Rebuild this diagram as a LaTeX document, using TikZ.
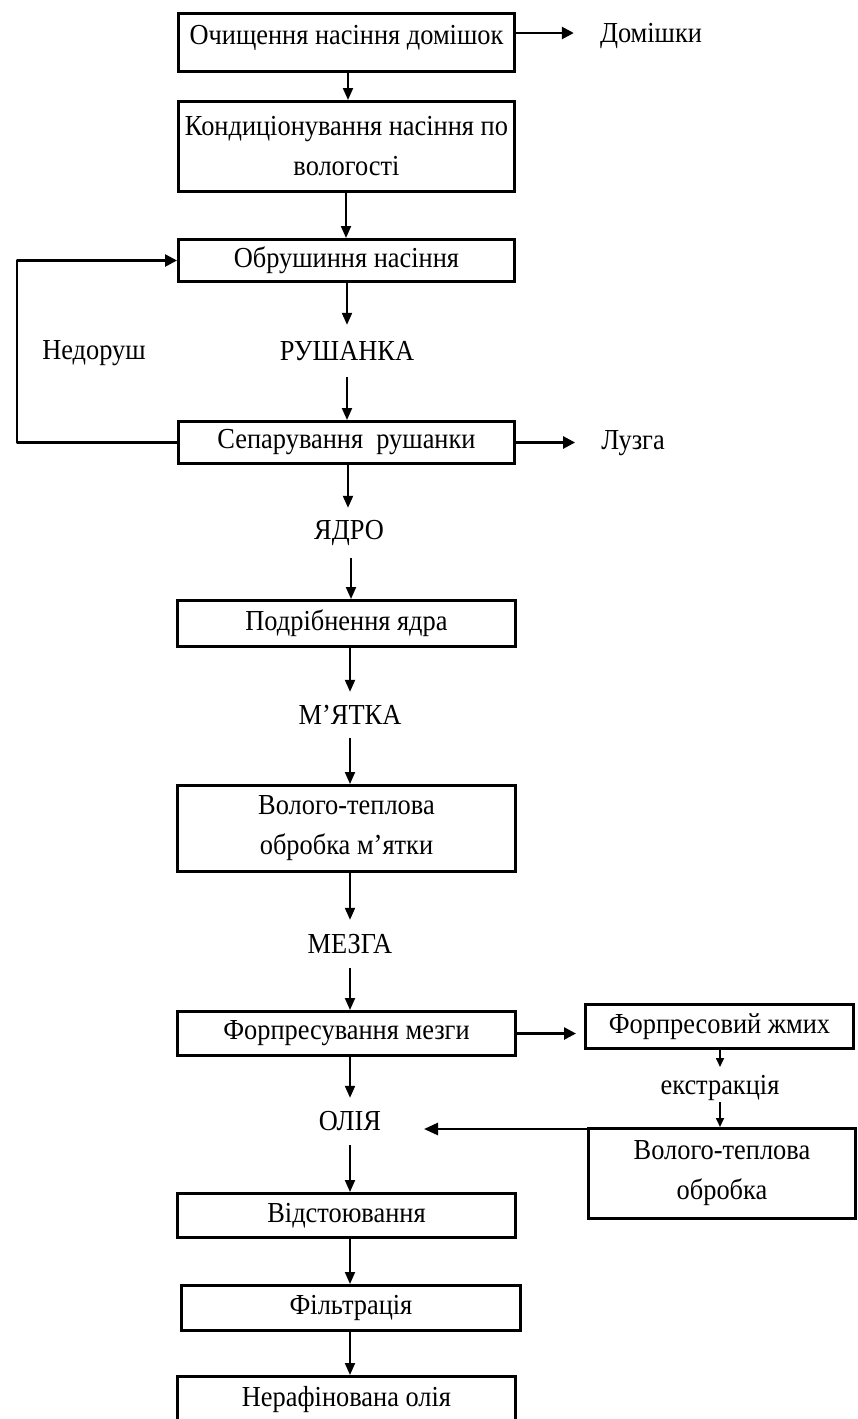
\documentclass[tikz,border=0pt]{standalone}
\usepackage{fontspec}
\setmainfont[FakeStretch=0.91]{Liberation Serif}
\usetikzlibrary{arrows.meta}

\begin{document}
\begin{tikzpicture}[x=1pt,y=-1pt,
  every node/.style={font=\fontsize{29}{40}\selectfont},
  stage/.style={draw, line width=3pt, inner sep=0pt, align=center},
  word/.style={inner sep=0pt, align=center},
  flow/.style={inner sep=0pt, align=center, minimum height=#1},
  arr/.style={line width=2pt, -{Triangle[length=12pt,width=10pt]}},
  harr/.style={line width=2.6pt, -{Triangle[length=12pt,width=12pt]}},
  sarr/.style={line width=1.6pt, -{Triangle[length=9pt,width=8pt]}},
  loopline/.style={line width=2.6pt, line join=round, -{Triangle[length=12pt,width=12pt]}}
]
\useasboundingbox (0,0) rectangle (857,1419);
\clip (0,0) rectangle (857,1419);

% main column of process stages
\node[stage, minimum width=336pt, minimum height=58pt, text height=31pt, text depth=27pt]
  (b1) at (346.5,42.5) {Очищення насіння домішок};
\node[stage, minimum width=336pt, minimum height=90pt] (b2) at (346.5,146.5)
  {Кондиціонування насіння по\\вологості};
\node[stage, minimum width=336pt, minimum height=42pt] (b3) at (346.5,260.5) {Обрушиння насіння};
\node[stage, minimum width=336pt, minimum height=42pt] (b4) at (346.5,442.5) {Сепарування~ рушанки};
\node[stage, minimum width=338pt, minimum height=46pt] (b5) at (346.5,623.5) {Подрібнення ядра};
\node[stage, minimum width=338pt, minimum height=86pt] (b6) at (346.5,828.5)
  {Волого-теплова\\обробка м’ятки};
\node[stage, minimum width=338pt, minimum height=44pt] (b7) at (346.5,1033.5) {Форпресування мезги};
\node[stage, minimum width=338pt, minimum height=44pt] (b10) at (346.5,1215.5) {Відстоювання};
\node[stage, minimum width=339pt, minimum height=45pt] (b11) at (351,1308) {Фільтрація};
\node[stage, minimum width=338pt, minimum height=46pt] (b12) at (346.5,1399.5) {Нерафінована олія};

% side branch for the press cake
\node[stage, minimum width=268pt, minimum height=44pt] (b8) at (719.5,1026.5) {Форпресовий жмих};
\node[stage, minimum width=267pt, minimum height=90pt] (b9) at (722,1173.5)
  {Волого-теплова\\обробка};

% intermediate products
\node[flow=52pt] (rush) at (347,351) {РУШАНКА};
\node[flow=50pt] (yadro) at (349,533) {ЯДРО};
\node[flow=46pt] (myatka) at (350,715) {М’ЯТКА};
\node[flow=48pt] (mezga) at (350,944) {МЕЗГА};
\node[flow=47pt] (oil) at (350,1121.5) {ОЛІЯ};

% side labels
\node[word] (dom) at (651,36) {Домішки};
\node[word] (luz) at (633,443) {Лузга};
\node[word] (nedo) at (94,353) {Недоруш};
\node[word] (ext) at (720,1088) {екстракція};

\coordinate (loopx) at (17,0);
\coordinate (oiltip) at (424,1129);

% vertical flow
\draw[arr] (b1.south -| 348,0) -- (b2.north -| 348,0);
\draw[arr] (b2.south -| 346,0) -- (b3.north -| 346,0);
\draw[arr] (b3.south -| rush.north) -- (rush.north);
\draw[arr] (rush.south) -- (b4.north -| rush.south);
\draw[arr] (b4.south -| 348,0) -- (yadro.north -| 348,0);
\draw[arr] (yadro.south -| 351,0) -- (b5.north -| 351,0);
\draw[arr] (b5.south -| myatka.north) -- (myatka.north);
\draw[arr] (myatka.south) -- (b6.north -| myatka.south);
\draw[arr] (b6.south -| mezga.north) -- (mezga.north);
\draw[arr] (mezga.south) -- (b7.north -| mezga.south);
\draw[arr] (b7.south -| oil.north) -- (oil.north);
\draw[arr] (oil.south) -- (b10.north -| oil.south);
\draw[arr] (b10.south -| oil.south) -- (b11.north -| oil.south);
\draw[arr] (b11.south -| oil.south) -- (b12.north -| oil.south);

% side outputs
\draw[harr] (b1.east |- 0,33) -- ([xshift=-26pt]dom.west |- 0,33);
\draw[harr] (b4.east) -- ([xshift=-26pt]luz.west |- b4.east);
\draw[harr] (b7.east) -- ([xshift=-8pt]b8.west |- b7.east);

% return of unhulled seed
\draw[loopline] (b4.west) -- (b4.west -| loopx) -- (b3.west -| loopx) -- (b3.west);

% extraction branch
\draw[sarr] (b8.south -| ext) -- ++(0,17);
\draw[sarr] (ext.center) ++(0,14) -- (b9.north -| ext.center);
\draw[line width=2.6pt, -{Triangle[length=14pt,width=12pt]}] (b9.west |- oiltip) -- (oiltip);
\end{tikzpicture}
\end{document}
